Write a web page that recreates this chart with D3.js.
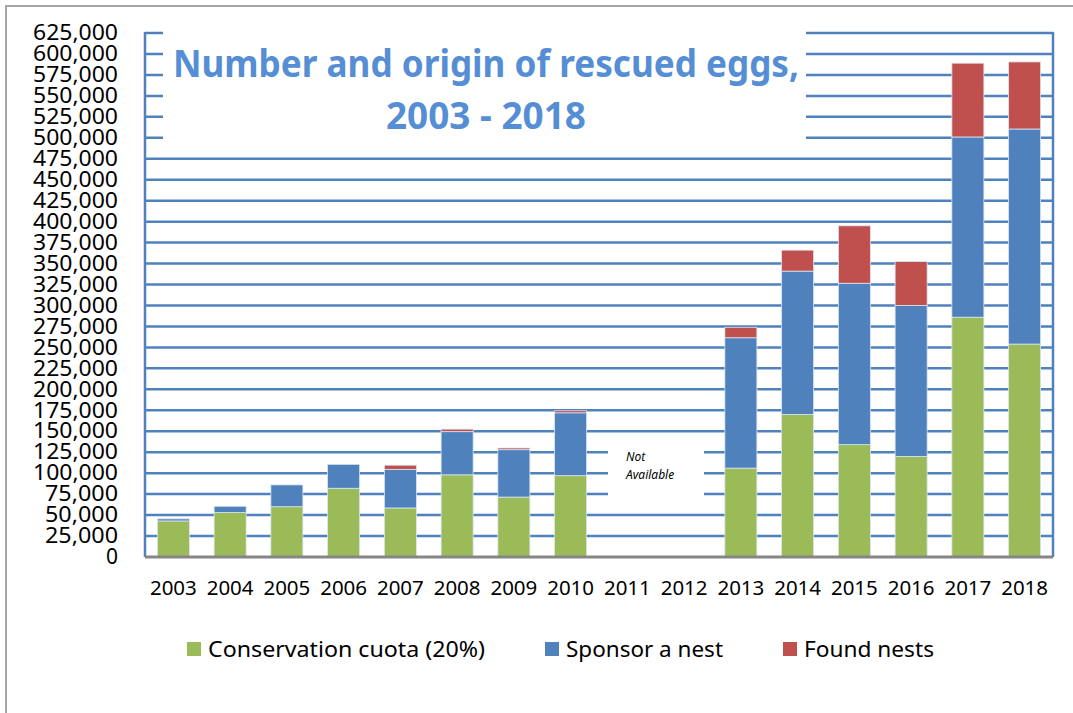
<!DOCTYPE html>
<html>
<head>
<meta charset="utf-8">
<script src="https://cdn.jsdelivr.net/npm/d3@7/dist/d3.min.js"></script>
<style>
  html, body { margin: 0; padding: 0; background: #fff; }
  svg { display: block; font-family: "Noto Sans", "Open Sans", sans-serif; }
</style>
</head>
<body>
<svg id="chart" width="1073" height="713"></svg>
<script>
// Rescued eggs per year, by origin
const years = ["2003","2004","2005","2006","2007","2008","2009","2010","2011","2012","2013","2014","2015","2016","2017","2018"];
const conservation = [43000, 53000, 60000, 82000, 58500, 98000, 71500, 97000, null, null, 106000, 170000, 134000, 120000, 286000, 254000];
const sponsor      = [2500, 7500, 26000, 28500, 46000, 51500, 56500, 75000, null, null, 155500, 171000, 192500, 180000, 215000, 256500];
const foundNests   = [0, 0, 0, 0, 5000, 3000, 2000, 2500, null, null, 12500, 25000, 68500, 52500, 88000, 80000];
const seriesNames  = ["Conservation cuota (20%)", "Sponsor a nest", "Found nests"];
const seriesColors = ["#9BBB59", "#4F81BD", "#C0504D"];
const yTicks = d3.range(0, 625001, 25000);

const svg = d3.select("#chart");
const W = 1073, H = 713;
const plot = { left: 145, right: 1053, top: 33, bottom: 557 };

// outer frame
svg.append("path")
  .attr("d", `M6,${H} L6,6 L${W},6`)
  .attr("fill", "none").attr("stroke", "#a6a6a6").attr("stroke-width", 2);

const x = d3.scaleBand().domain(years).range([plot.left, plot.right]).paddingInner(0.436).paddingOuter(0.218);
const y = d3.scaleLinear().domain([0, 625000]).range([plot.bottom, plot.top]);

// horizontal gridlines
const grid = svg.append("g");
grid.selectAll("line").data(yTicks.filter(t => t > 0)).join("line")
  .attr("x1", plot.left).attr("x2", plot.right)
  .attr("y1", d => y(d)).attr("y2", d => y(d))
  .attr("stroke", "#4F81BD").attr("stroke-width", 2.5);

// left and right borders of plot area
svg.append("line").attr("x1", plot.left).attr("x2", plot.left).attr("y1", plot.top - 1).attr("y2", plot.bottom)
  .attr("stroke", "#4F81BD").attr("stroke-width", 2.5);
svg.append("line").attr("x1", plot.right).attr("x2", plot.right).attr("y1", plot.top - 1).attr("y2", plot.bottom)
  .attr("stroke", "#4F81BD").attr("stroke-width", 2.5);

// stacked bars
const rows = years.map((yr, i) => ({ year: yr, c: conservation[i] || 0, s: sponsor[i] || 0, f: foundNests[i] || 0 }));
const stack = d3.stack().keys(["c", "s", "f"])(rows);
svg.append("g").selectAll("g").data(stack).join("g")
  .attr("fill", (d, i) => seriesColors[i])
  .selectAll("rect").data(d => d.filter(p => p[1] - p[0] > 0)).join("rect")
  .attr("x", d => x(d.data.year))
  .attr("width", x.bandwidth())
  .attr("y", d => y(d[1]))
  .attr("height", d => y(d[0]) - y(d[1]))
  .attr("stroke", "#dbe5f1").attr("stroke-width", 0.8);

// baseline
svg.append("line").attr("x1", plot.left).attr("x2", plot.right).attr("y1", plot.bottom).attr("y2", plot.bottom)
  .attr("stroke", "#868686").attr("stroke-width", 3);

// y axis labels
const yAxis = d3.axisLeft(y).tickValues(yTicks).tickSize(0).tickPadding(0).tickFormat(d3.format(","));
const ya = svg.append("g").attr("transform", `translate(118,0)`).call(yAxis);
ya.select(".domain").remove();
ya.selectAll("text").attr("font-size", 21).attr("fill", "#000").attr("font-family", "'Noto Sans', sans-serif")
  .each(function (d) {
    // stretch the wider labels slightly, like the condensed spreadsheet font
    if (d >= 100000) d3.select(this).attr("textLength", 85).attr("lengthAdjust", "spacingAndGlyphs");
    else if (d > 0) d3.select(this).attr("textLength", 73).attr("lengthAdjust", "spacingAndGlyphs");
  });

// x axis labels
const xAxis = d3.axisBottom(x).tickSize(0).tickPadding(0);
const xa = svg.append("g").attr("transform", `translate(0,580)`).call(xAxis);
xa.select(".domain").remove();
xa.selectAll("text").attr("font-size", 20.5).attr("fill", "#000").attr("dy", "0.72em").attr("font-family", "'Noto Sans', sans-serif");

// "Not Available" note for missing years
svg.append("rect").attr("x", 608).attr("y", 441).attr("width", 96).attr("height", 64).attr("fill", "#fff");
const note = svg.append("text").attr("font-size", 12).attr("font-style", "italic").attr("fill", "#000");
note.append("tspan").attr("x", 626).attr("y", 461).text("Not");
note.append("tspan").attr("x", 626).attr("y", 479).text("Available");

// title box
svg.append("rect").attr("x", 163).attr("y", 20).attr("width", 643).attr("height", 129).attr("fill", "#fff");
svg.append("text").attr("x", 486).attr("y", 77).attr("text-anchor", "middle")
  .attr("font-size", 37).attr("font-weight", "bold").attr("fill", "#558ED5")
  .attr("textLength", 626).attr("lengthAdjust", "spacingAndGlyphs")
  .text("Number and origin of rescued eggs,");
svg.append("text").attr("x", 486).attr("y", 129).attr("text-anchor", "middle")
  .attr("font-size", 37).attr("font-weight", "bold").attr("fill", "#558ED5")
  .attr("textLength", 200).attr("lengthAdjust", "spacingAndGlyphs")
  .text("2003 - 2018");

// legend
const legendX = [187, 545, 783];
const legendW = [277, 157, 130];
const lg = svg.append("g").selectAll("g").data(seriesNames).join("g")
  .attr("transform", (d, i) => `translate(${legendX[i]},642)`);
lg.append("rect").attr("width", 14).attr("height", 14).attr("fill", (d, i) => seriesColors[i]);
lg.append("text").attr("x", 21).attr("y", 7).attr("dy", "0.36em")
  .attr("font-size", 22).attr("fill", "#000")
  .attr("textLength", (d, i) => legendW[i]).attr("lengthAdjust", "spacingAndGlyphs")
  .text(d => d);
</script>
</body>
</html>
